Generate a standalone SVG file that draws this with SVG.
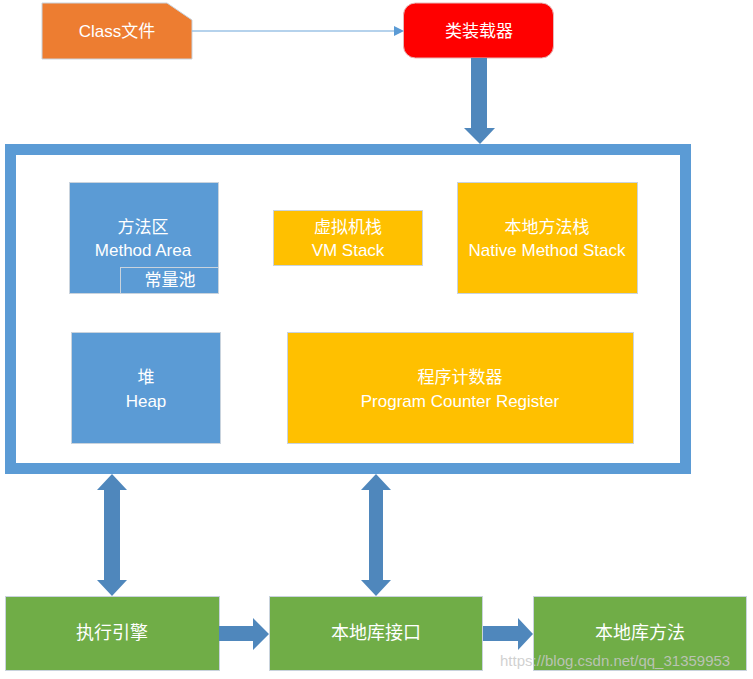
<svg xmlns="http://www.w3.org/2000/svg" width="753" height="679" viewBox="0 0 753 679">
<style>
.t{font-family:"Liberation Sans","Noto Sans CJK SC",sans-serif;fill:#fff;font-size:17px;text-anchor:middle;dominant-baseline:central}
.b{font-size:18px}
.box{stroke:#C9D3DD;stroke-width:1}
.big{fill:#4F87BC}
</style>
<rect width="753" height="679" fill="#fff"/>
<g id="class-file">
<polygon points="42,3 167,3 192,20 192,59 42,59" fill="#ED7D31" class="box"/>
<text class="t" x="117" y="31">Class文件</text>
</g>
<g id="class-loader">
<rect x="403.5" y="3" width="150" height="55" rx="12" fill="#FF0000" stroke="#E6B8B8" stroke-width="1"/>
<text class="t" x="479" y="31">类装载器</text>
</g>
<g id="runtime-area">
<rect x="10.5" y="149.5" width="675" height="319" fill="#fff" stroke="#5B9BD5" stroke-width="11"/>
</g>
<g id="method-area">
<rect x="69.5" y="182.5" width="149" height="111" fill="#5B9BD5" class="box"/>
<text class="t" x="143" y="227">方法区</text>
<text class="t" x="143" y="250">Method Area</text>
</g>
<g id="constant-pool">
<rect x="120.5" y="267.5" width="98" height="26" fill="#5B9BD5" class="box"/>
<text class="t" x="170" y="280">常量池</text>
</g>
<g id="vm-stack">
<rect x="273.5" y="210.5" width="149" height="55" fill="#FFC000" class="box"/>
<text class="t" x="348" y="227">虚拟机栈</text>
<text class="t" x="348" y="250">VM Stack</text>
</g>
<g id="native-method-stack">
<rect x="457.5" y="182.5" width="180" height="111" fill="#FFC000" class="box"/>
<text class="t" x="547" y="227">本地方法栈</text>
<text class="t" x="547" y="250">Native Method Stack</text>
</g>
<g id="heap">
<rect x="71.5" y="332.5" width="149" height="111" fill="#5B9BD5" class="box"/>
<text class="t" x="146" y="377">堆</text>
<text class="t" x="146" y="401">Heap</text>
</g>
<g id="program-counter">
<rect x="287.5" y="332.5" width="346" height="111" fill="#FFC000" class="box"/>
<text class="t" x="460" y="377">程序计数器</text>
<text class="t" x="460" y="401">Program Counter Register</text>
</g>
<g id="execution-engine">
<rect x="5.5" y="596.5" width="214" height="74" fill="#70AD47" class="box"/>
<text class="t b" x="112" y="633">执行引擎</text>
</g>
<g id="native-interface">
<rect x="269.5" y="596.5" width="213" height="74" fill="#70AD47" class="box"/>
<text class="t b" x="376" y="633">本地库接口</text>
</g>
<g id="native-library">
<rect x="533.5" y="596.5" width="213" height="74" fill="#70AD47" class="box"/>
<text class="t b" x="640" y="633">本地库方法</text>
</g>
<g id="connectors">
<line x1="192" y1="31" x2="394" y2="31" stroke="#9DC3E6" stroke-width="1.5"/>
<polygon points="394,26 404,31 394,36" fill="#5B9BD5"/>
<polygon class="big" points="471,58 487,58 487,128 495,128 480,144 464,128 471,128"/>
<polygon class="big" points="112,474 127,490 120,490 120,580 127,580 112,596 97,580 104,580 104,490 97,490"/>
<polygon class="big" points="376,474 391,490 383,490 383,580 391,580 376,596 361,580 369,580 369,490 361,490"/>
<polygon class="big" points="219,626 253,626 253,618 269,634 253,650 253,641 219,641"/>
<polygon class="big" points="483,626 518,626 518,618 533,634 518,650 518,641 483,641"/>
</g>
<text x="500" y="666" font-family="Liberation Sans, sans-serif" font-size="15" fill="#C8C8C8" fill-opacity="0.85">https://blog.csdn.net/qq_31359953</text>
</svg>
